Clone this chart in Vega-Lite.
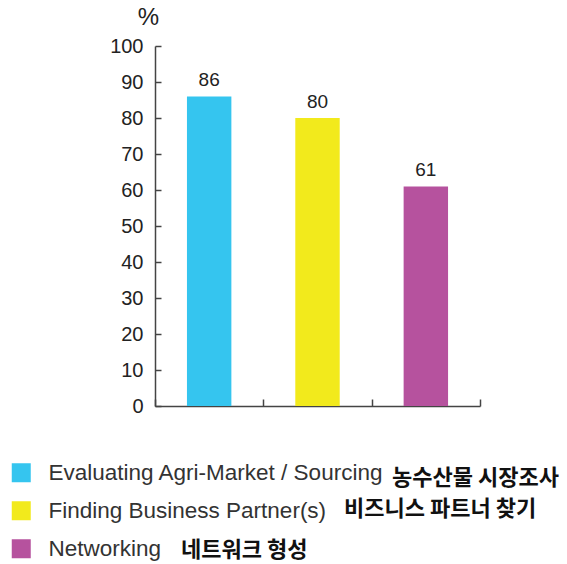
{
  "$schema": "https://vega.github.io/schema/vega-lite/v6.json",
  "width": 325,
  "height": 360,
  "autosize": {"type": "none"},
  "padding": {"left": 155, "top": 46, "right": 87, "bottom": 158},
  "background": "white",
  "data": {"values": [
    {"cat": "Evaluating Agri-Market / Sourcing", "kor": "농수산물 시장조사", "value": 86},
    {"cat": "Finding Business Partner(s)", "kor": "비즈니스 파트너 찾기", "value": 80},
    {"cat": "Networking", "kor": "네트워크 형성", "value": 61}
  ]},
  "config": {"view": {"stroke": null}, "font": "Liberation Sans"},
  "encoding": {
    "x": {
      "field": "cat", "type": "nominal", "sort": null,
      "scale": {"paddingInner": 0, "paddingOuter": 0},
      "axis": {"title": null, "labels": false, "tickBand": "extent", "tickSize": -7,
               "domainColor": "#444", "tickColor": "#444", "domainWidth": 1.5, "tickWidth": 1.5}
    },
    "y": {
      "field": "value", "type": "quantitative",
      "scale": {"domain": [0, 100], "nice": false},
      "axis": {"values": [0, 10, 20, 30, 40, 50, 60, 70, 80, 90, 100], "tickSize": -6, "labelPadding": 18,
               "labelFontSize": 20, "labelColor": "#222", "domainColor": "#444", "tickColor": "#444",
               "domainWidth": 1.5, "tickWidth": 1.5, "grid": false,
               "title": "%", "titleAngle": 0, "titleX": -7, "titleY": -17, "titleAlign": "center",
               "titleBaseline": "bottom", "titleFontSize": 24, "titleFontWeight": "normal", "titleColor": "#222"}
    }
  },
  "layer": [
    {
      "mark": {"type": "bar", "width": {"band": 0.41}},
      "encoding": {
        "color": {
          "field": "cat", "type": "nominal", "sort": null,
          "scale": {"domain": ["Evaluating Agri-Market / Sourcing", "Finding Business Partner(s)", "Networking"],
                    "range": ["#35C5EF", "#F2EA1C", "#B6529E"]},
          "legend": {"title": null, "orient": "none", "legendX": -145, "legendY": 415.5,
                     "symbolType": "square", "symbolSize": 361, "symbolStrokeWidth": 0, "symbolOpacity": 1,
                     "labelFontSize": 22.5, "labelColor": "#333", "labelOffset": 16, "rowPadding": 15,
                     "padding": 0, "labelLimit": 0}
        }
      }
    },
    {
      "mark": {"type": "text", "baseline": "bottom", "dy": -6, "fontSize": 19, "color": "#222"},
      "encoding": {"text": {"field": "value", "type": "quantitative"}}
    },
    {
      "transform": [{"filter": {"field": "cat", "equal": "Evaluating Agri-Market / Sourcing"}}],
      "mark": {"type": "point", "opacity": 0},
      "encoding": {"shape": {"field": "kor", "type": "nominal",
        "legend": {"title": null, "orient": "none", "legendX": 215, "legendY": 421,
                   "symbolSize": 0, "symbolOpacity": 0, "symbolStrokeWidth": 0, "labelOffset": 0,
                   "labelFont": "Noto Sans CJK KR", "labelFontWeight": "bold", "labelFontSize": 22,
                   "labelColor": "#111", "padding": 0, "labelLimit": 0}}}
    },
    {
      "transform": [{"filter": {"field": "cat", "equal": "Finding Business Partner(s)"}}],
      "mark": {"type": "point", "opacity": 0},
      "encoding": {"shape": {"field": "kor", "type": "nominal",
        "legend": {"title": null, "orient": "none", "legendX": 167, "legendY": 451.5,
                   "symbolSize": 0, "symbolOpacity": 0, "symbolStrokeWidth": 0, "labelOffset": 0,
                   "labelFont": "Noto Sans CJK KR", "labelFontWeight": "bold", "labelFontSize": 22,
                   "labelColor": "#111", "padding": 0, "labelLimit": 0}}}
    },
    {
      "transform": [{"filter": {"field": "cat", "equal": "Networking"}}],
      "mark": {"type": "point", "opacity": 0},
      "encoding": {"shape": {"field": "kor", "type": "nominal",
        "legend": {"title": null, "orient": "none", "legendX": 4, "legendY": 493,
                   "symbolSize": 0, "symbolOpacity": 0, "symbolStrokeWidth": 0, "labelOffset": 0,
                   "labelFont": "Noto Sans CJK KR", "labelFontWeight": "bold", "labelFontSize": 22,
                   "labelColor": "#111", "padding": 0, "labelLimit": 0}}}
    }
  ],
  "resolve": {"scale": {"shape": "independent"}, "legend": {"shape": "independent"}}
}
